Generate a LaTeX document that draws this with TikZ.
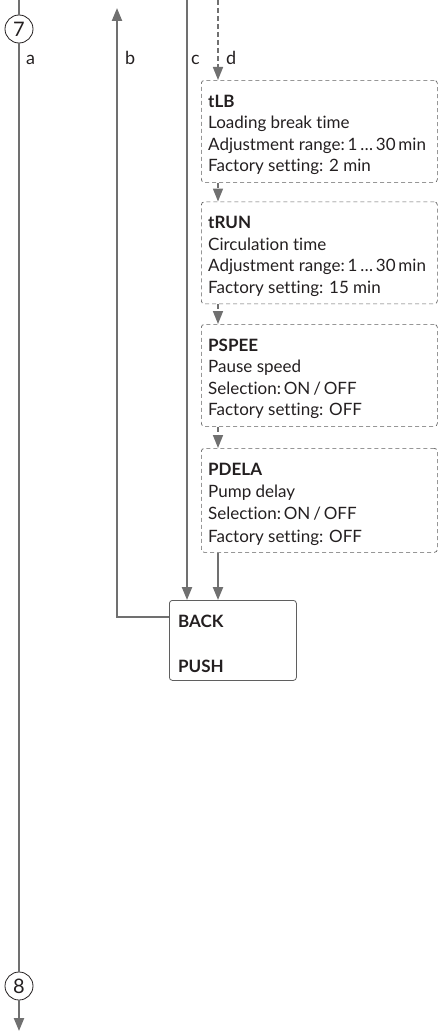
\documentclass[tikz,border=0pt]{standalone}
\usepackage{fontspec}
\setmainfont{Lato}[Ligatures=NoCommon]
\usetikzlibrary{arrows.meta}
\definecolor{linegray}{RGB}{112,112,112}
\definecolor{txt}{RGB}{35,31,32}
\definecolor{boxgray}{RGB}{95,95,95}
\tikzset{
  flow/.style={draw=linegray, line width=2.2pt},
  tipd/.style={-{Triangle[length=13pt,width=10pt]}},
  dflow/.style={draw=linegray, line width=1.6pt, dash pattern=on 5pt off 3pt},
  dbox/.style={draw=boxgray, dash pattern=on 4pt off 3pt, line width=0.7pt, rounded corners=3pt, minimum width=236pt, anchor=north west, inner sep=0pt},
  sbox/.style={draw=boxgray, line width=0.8pt, rounded corners=3pt, minimum width=127pt, minimum height=80pt, anchor=north west, inner sep=0pt},
  tl/.style={anchor=base west, inner sep=0pt, text=txt, font=\fontsize{17}{19}\selectfont},
  lab/.style={anchor=base west, inner sep=0pt, text=txt, font=\fontsize{18}{20}\selectfont},
  num/.style={circle, draw=txt, line width=0.8pt, minimum size=28pt, inner sep=0pt, text=txt, font=\fontsize{20}{22}\selectfont},
}
\begin{document}
\begin{tikzpicture}[x=1pt,y=-1pt]
\useasboundingbox (0,0) rectangle (438,1033);
% circles and line a
\coordinate (atop) at (19,0);
\coordinate (abot) at (19,1031);
\node[num] (c7) at (19,29) {7};
\node[num] (c8) at (19,986) {8};
\draw[flow] (atop) -- (c7.north);
\draw[flow] (c7.south) -- (c8.north);
\draw[flow,tipd] (c8.south) -- (abot);
% labels
\node[lab] (la) at (26,65) {a};
\node[lab] (lb) at (125,65) {b};
\node[lab] (lc) at (191,65) {c};
\node[lab] (ld) at (226,65) {d};
% boxes
\node[dbox, minimum height=102pt] (tLB) at (201,80) {};
\node[dbox, minimum height=102pt] (tRUN) at (201,201.5) {};
\node[dbox, minimum height=102pt] (PSPEE) at (201,324) {};
\node[dbox, minimum height=104pt] (PDELA) at (201,448) {};
\node[sbox] (back) at (169,600) {};
% texts
\node[tl] (t1a) at (208,107) {\textbf{tLB}};
\node[tl] (t1b) at (208,128.5) {Loading break time};
\node[tl] (t1c) at (208,150) {Adjustment range:\,1\,…\,30\,min};
\node[tl] (t1d) at (208,171.5) {Factory setting: 2 min};
\node[tl] (t2a) at (208,228.5) {\textbf{tRUN}};
\node[tl] (t2b) at (208,250) {Circulation time};
\node[tl] (t2c) at (208,271.5) {Adjustment range:\,1\,…\,30\,min};
\node[tl] (t2d) at (208,293) {Factory setting: 15 min};
\node[tl] (t3a) at (208,351) {\textbf{PSPEE}};
\node[tl] (t3b) at (208,372.5) {Pause speed};
\node[tl] (t3c) at (208,394) {Selection:\,ON\,/\,OFF};
\node[tl] (t3d) at (208,415.5) {Factory setting: OFF};
\node[tl] (t4a) at (208,475) {\textbf{PDELA}};
\node[tl] (t4b) at (208,497) {Pump delay};
\node[tl] (t4c) at (208,519.5) {Selection:\,ON\,/\,OFF};
\node[tl] (t4d) at (208,542) {Factory setting: OFF};
\node[tl] (bk1) at (178,627) {\textbf{BACK}};
\node[tl] (bk2) at (178,672) {\textbf{PUSH}};
% line b
\coordinate (btop) at (117,8);
\coordinate (bturn) at (117,617);
\draw[flow,tipd] (back.west |- bturn) -- (bturn) -- (btop);
% line c
\coordinate (ctop) at (187,0);
\draw[flow,tipd] (ctop) -- (ctop |- back.north);
% line d
\coordinate (dtop) at (218,0);
\draw[dflow,tipd] (dtop) -- (dtop |- tLB.north);
\draw[dflow,tipd] (dtop |- tLB.south) -- (dtop |- tRUN.north);
\draw[dflow,tipd] (dtop |- tRUN.south) -- (dtop |- PSPEE.north);
\draw[dflow,tipd] (dtop |- PSPEE.south) -- (dtop |- PDELA.north);
\draw[flow,tipd] (dtop |- PDELA.south) -- (dtop |- back.north);
\end{tikzpicture}
\end{document}
